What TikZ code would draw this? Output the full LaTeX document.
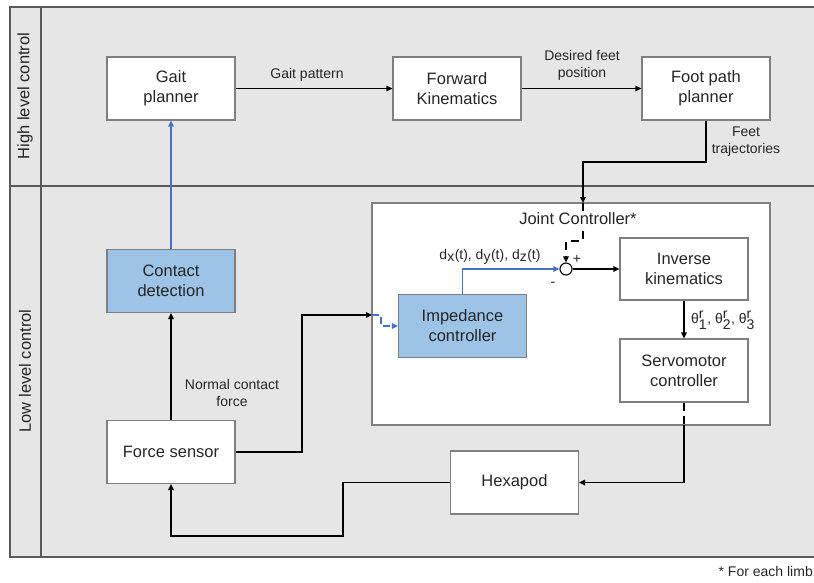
\documentclass[tikz,border=0pt]{standalone}
\usepackage{fontspec}
\setmainfont{Liberation Sans}
\usetikzlibrary{arrows.meta}
\definecolor{bgray}{HTML}{E7E6E6}
\definecolor{bfill}{HTML}{9DC3E6}
\definecolor{bline}{HTML}{4472C4}
\definecolor{bord}{HTML}{7F7F7F}
\definecolor{frm}{HTML}{595959}
\definecolor{txt}{HTML}{262626}
\tikzset{
  blk/.style={draw=bord, line width=1.1pt, fill=white, minimum width=128pt, minimum height=63pt, align=center, text=txt, font=\fontsize{16.5}{20}\selectfont, inner sep=0pt},
  bluebk/.style={blk, fill=bfill},
  conn/.style={line width=1.5pt, black, -{Triangle[length=6pt,width=5.5pt]}},
  bconn/.style={conn, bline},
  lbl/.style={text=txt, font=\fontsize{14}{17}\selectfont, align=center, inner sep=1pt},
  biglbl/.style={text=txt, font=\fontsize{16.5}{20}\selectfont, inner sep=1pt},
}
\begin{document}
\begin{tikzpicture}[x=1pt,y=-1pt]
\useasboundingbox (0,0) rectangle (814,583);
% frame
\begin{scope}
\clip (0,0) rectangle (814,583);
\fill[bgray] (10,7) rectangle (817,557);
\draw[frm, line width=1.2pt] (10,7) rectangle (817,557);
\draw[frm, line width=1.2pt] (41,7) -- (41,557);
\draw[frm, line width=1.2pt] (10,186) -- (817,186);
\end{scope}
\node[biglbl, rotate=90] (hl) at (25,96) {High level control};
\node[biglbl, rotate=90] (ll) at (25,371) {Low level control};
\node[lbl, anchor=east] (foot) at (814,571) {* For each limb};

% joint controller
\node[draw=bord, line width=1.1pt, fill=white, minimum width=398pt, minimum height=222pt, inner sep=0pt] (jc) at (571,314) {};

% blocks
\node[blk] (gait) at (171,88.5) {Gait\\planner};
\node[blk] (fk) at (457,88.5) {Forward\\Kinematics};
\node[blk] (fp) at (706,88.5) {Foot path\\planner};
\node[bluebk] (cd) at (171,281) {Contact\\detection};
\node[blk] (fs) at (171,452) {Force sensor};
\node[blk] (hex) at (514.5,482.5) {Hexapod};
\node[bluebk] (imp) at (462.5,326) {Impedance\\controller};
\node[blk, minimum height=62pt] (ik) at (684,269) {Inverse\\kinematics};
\node[blk] (sv) at (684,370.5) {Servomotor\\controller};
\node[draw=black, line width=1.1pt, fill=white, circle, minimum size=12pt, inner sep=0pt] (sum) at (566,269) {};

% coordinates
\coordinate (ft1) at (706,162);
\coordinate (ft2) at (583,162);
\coordinate (jctop) at (583,203);
\coordinate (d1) at (583,241);
\coordinate (d2) at (566,241);
\coordinate (jcbot) at (684,425);
\coordinate (h1) at (684,482.5);
\coordinate (l1) at (343,482.5);
\coordinate (l2) at (343,536);
\coordinate (l3) at (171,536);
\coordinate (f1) at (302,452);
\coordinate (f2) at (302,315);
\coordinate (jcleft) at (372,315);
\coordinate (b1) at (381,315);
\coordinate (b2) at (381,326);
\coordinate (i1) at (462.5,269);

% high level
\draw[conn] (gait.east) -- (fk.west);
\node[lbl] (gp) at (307,75) {Gait pattern};
\draw[conn] (fk.east) -- (fp.west);
\node[lbl] (dfp) at (582,65) {Desired feet\\position};
\draw[conn] (fp.south) -- (ft1) -- (ft2) -- (jctop);
\node[lbl] (ftl) at (746,142) {Feet\\trajectories};

% inside joint controller
\draw[line width=1.5pt, dash pattern=on 8pt off 6pt, -{Triangle[length=6pt,width=5.5pt]}] (jctop) -- (d1) -- (d2) -- (sum.north);
\node[biglbl, fill=white] (jcl) at (578,219) {Joint Controller*};
\draw[bconn] (imp.north) -- (i1) -- (sum.west);
\node[lbl] (dxl) at (490,257) {d$_{\textrm{x}}$(t), d$_{\textrm{y}}$(t), d$_{\textrm{z}}$(t)};
\node[lbl] (plus) at (577,259) {+};
\node[lbl] (minus) at (553,284) {-};
\draw[conn] (sum.east) -- (ik.west);
\draw[conn] (ik.south) -- (sv.north);
\node[lbl, anchor=west] (th) at (690,320) {θ$^{\textrm{r}}_{\textrm{1}}$, θ$^{\textrm{r}}_{\textrm{2}}$, θ$^{\textrm{r}}_{\textrm{3}}$};
\draw[line width=1.5pt, dash pattern=on 8pt off 5pt] (sv.south) -- (jcbot);
\draw[conn] (jcbot) -- (h1) -- (hex.east);

% low level
\draw[conn] (hex.west) -- (l1) -- (l2) -- (l3) -- (fs.south);
\draw[conn] (fs.east) -- (f1) -- (f2) -- (jcleft);
\draw[bline, line width=1.5pt, dash pattern=on 7pt off 4pt, -{Triangle[length=6pt,width=5.5pt]}] (jcleft) -- (b1) -- (b2) -- (imp.west);
\draw[conn] (fs.north) -- (cd.south);
\node[lbl] (ncf) at (232,393) {Normal contact\\force};
\draw[bconn] (cd.north) -- (gait.south);
\end{tikzpicture}
\end{document}
